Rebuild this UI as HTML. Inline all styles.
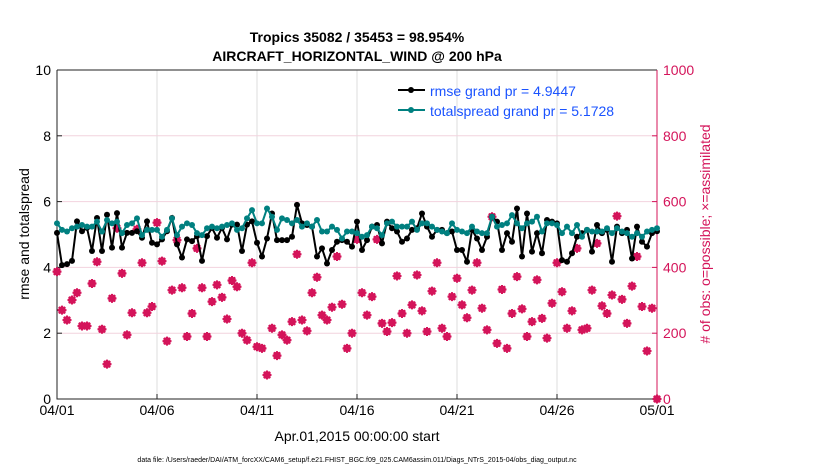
<!DOCTYPE html>
<html><head><meta charset="utf-8"><style>
body{margin:0;background:#fff;width:830px;height:470px;overflow:hidden}
svg{font-family:"Liberation Sans",sans-serif}
</style></head><body>
<svg id="chart" width="830" height="470" viewBox="0 0 830 470" xmlns="http://www.w3.org/2000/svg">
<text x="357" y="42" font-size="14" font-weight="bold" text-anchor="middle">Tropics 35082 / 35453 = 98.954%</text>
<text x="357" y="61" font-size="14" font-weight="bold" text-anchor="middle">AIRCRAFT_HORIZONTAL_WIND @ 200 hPa</text>
<g id="grid"></g>
<g id="axes"></g>
<g id="marks"></g>
<text transform="translate(29,234) rotate(-90)" font-size="14" text-anchor="middle">rmse and totalspread</text>
<text transform="translate(710,234) rotate(-90)" font-size="14" fill="#d4145a" text-anchor="middle"># of obs: o=possible; ×=assimilated</text>
<text x="357" y="441" font-size="14" text-anchor="middle">Apr.01,2015 00:00:00 start</text>
<text x="357" y="462" font-size="7" text-anchor="middle">data file: /Users/raeder/DAI/ATM_forcXX/CAM6_setup/f.e21.FHIST_BGC.f09_025.CAM6assim.011/Diags_NTrS_2015-04/obs_diag_output.nc</text>
<g>
<line x1="398" y1="90" x2="425" y2="90" stroke="#000" stroke-width="2"/><circle cx="411" cy="90" r="3" fill="#000"/>
<text x="430" y="96" font-size="14" fill="#1a53ff">rmse grand pr = 4.9447</text>
<line x1="398" y1="110" x2="425" y2="110" stroke="#008080" stroke-width="2"/><circle cx="411" cy="110" r="3" fill="#008080"/>
<text x="430" y="116" font-size="14" fill="#1a53ff">totalspread grand pr = 5.1728</text>
</g>
</svg>
<script>
const rmse=[5.05,4.07,4.1,4.2,5.4,5.1,5.2,4.5,5.5,4.5,5.6,4.6,5.65,4.6,5.05,5.05,5.1,4.9,5.4,4.75,4.7,4.85,5.1,5.5,4.7,4.3,4.85,4.8,4.95,4.2,4.95,5.2,4.9,5.2,4.85,5.3,5.3,4.5,5.3,5.4,4.75,
4.33,4.88,5.64,4.83,4.83,4.83,4.93,5.90,5.34,5.29,5.24,4.33,4.58,4.12,4.53,4.78,4.83,4.78,4.63,5.39,4.53,4.83,5.24,5.29,4.73,5.39,5.19,5.09,4.78,4.88,5.14,5.19,5.64,5.24,4.93,5.14,5.14,5.04,5.09,4.53,
4.53,4.17,5.14,4.88,4.53,4.93,5.54,5.39,4.53,5.04,4.78,5.79,4.33,5.64,4.48,5.04,4.43,5.44,5.39,5.34,4.22,4.17,4.43,4.93,5.04,5.14,4.48,5.29,5.04,5.14,4.17,5.24,5.04,5.14,4.27,5.24,4.78,4.63,5.04,5.1];
const spread=[5.34,5.14,5.09,5.19,5.24,5.29,5.24,5.24,5.39,5.09,5.44,5.34,5.39,5.04,5.29,5.34,5.49,4.98,5.14,5.14,5.14,4.93,5.14,5.49,4.98,5.24,5.34,5.29,5.04,4.98,5.19,5.24,5.19,5.24,5.29,5.34,5.14,5.19,5.49,5.74,5.34,
5.34,5.79,5.54,5.14,5.49,5.44,5.34,5.44,5.24,5.34,5.24,5.44,5.09,5.09,5.24,5.14,4.88,5.09,5.09,5.04,4.93,4.98,5.24,5.19,4.98,5.34,5.39,5.24,5.24,5.24,5.39,5.14,5.34,5.34,5.24,5.14,5.09,5.04,5.34,5.14,
5.09,5.04,5.24,5.09,5.04,5.04,5.54,5.24,5.29,5.34,5.59,5.34,5.19,5.34,5.39,5.54,5.09,5.34,5.34,5.29,5.04,5.24,5.04,5.29,4.93,5.14,5.09,5.09,5.09,5.19,5.04,5.19,5.09,5.04,4.93,5.04,4.93,5.09,5.14,5.19];
const nobs=[387,270,240,301,323,222,222,351,417,212,106,306,519,382,195,262,516,414,262,281,536,419,176,331,483,338,190,260,458,338,190,296,347,309,243,360,341,200,179,414,159,
154,73,215,132,195,179,235,440,240,207,323,370,255,240,279,433,288,154,200,485,323,255,311,485,230,205,232,374,260,200,286,377,268,205,328,414,215,190,311,367,
286,247,331,414,276,210,554,169,333,154,260,372,274,190,235,362,245,185,291,414,326,215,268,458,210,215,331,473,283,260,316,556,303,230,343,433,281,146,276,0];
const xTickLabels=["04/01","04/06","04/11","04/16","04/21","04/26","05/01"];
const xTickDays=[0,5,10,15,20,25,30];
const yTicksLeft=[0,2,4,6,8,10];
const yTicksRight=[0,200,400,600,800,1000];

const X0=57,X1=657,Y0=399,Y1=70,NS="http://www.w3.org/2000/svg";
const xDay=d=>X0+(X1-X0)*d/30;
const xIdx=i=>xDay(i/4);
const yL=v=>Y0-(Y0-Y1)*v/10;
const yR=v=>Y0-(Y0-Y1)*v/1000;
function mk(tag,attrs,parent){const e=document.createElementNS(NS,tag);for(const k in attrs)e.setAttribute(k,attrs[k]);parent.appendChild(e);return e;}
const grid=document.getElementById('grid'),axes=document.getElementById('axes'),marks=document.getElementById('marks');
xTickDays.forEach((d,k)=>{
  const gl=mk('line',{x1:xDay(d),x2:xDay(d),y1:Y1,y2:Y0,stroke:'#dcdcdc','stroke-width':1},grid);
  
  
  const t=mk('line',{x1:xDay(d),x2:xDay(d),y1:Y0,y2:Y0-5,stroke:'#222'},axes);
  
  
  const tx=mk('text',{x:xDay(d),y:Y0+16,'font-size':14,'text-anchor':'middle'},axes);
  tx.textContent=xTickLabels[k];
  
  
});
yTicksRight.forEach(v=>{
  if(v>0&&v<1000){const gl=mk('line',{x1:X0,x2:X1,y1:yR(v),y2:yR(v),stroke:'#f2d3de','stroke-width':1},grid);
  
  }
  const t=mk('line',{x1:X1,x2:X1-5,y1:yR(v),y2:yR(v),stroke:'#d4145a'},axes);
  
  
  const tx=mk('text',{x:X1+6,y:yR(v)+5,'font-size':14,fill:'#d4145a'},axes);
  tx.textContent=v;
  
  
});
yTicksLeft.forEach(v=>{
  const t=mk('line',{x1:X0,x2:X0+5,y1:yL(v),y2:yL(v),stroke:'#222'},axes);
  
  
  const tx=mk('text',{x:X0-6,y:yL(v)+5,'font-size':14,'text-anchor':'end'},axes);
  tx.textContent=v;
  
  
});
const ax=mk('path',{d:`M${X0},${Y1}H${X1}M${X0},${Y1}V${Y0}H${X1}`,stroke:'#222',fill:'none'},axes);


const rax=mk('line',{x1:X1,x2:X1,y1:Y1,y2:Y0,stroke:'#d4145a'},axes);


nobs.forEach((v,i)=>{
  const g=mk('g',{},marks);
  
  
  const x=xIdx(i),y=yR(v);
  mk('circle',{cx:x,cy:y,r:3.2,fill:'none',stroke:'#d4145a','stroke-width':1.3},g);
  mk('path',{d:`M${x-4.5},${y}H${x+4.5}M${x},${y-4.5}V${y+4.5}M${x-3.2},${y-3.2}L${x+3.2},${y+3.2}M${x-3.2},${y+3.2}L${x+3.2},${y-3.2}`,stroke:'#d4145a','stroke-width':2},g);
});
function series(arr,color,name){
  const p=mk('polyline',{points:arr.map((v,i)=>xIdx(i)+','+yL(v)).join(' '),fill:'none',stroke:color,'stroke-width':2},marks);
  
  
  arr.forEach((v,i)=>{
    const c=mk('circle',{cx:xIdx(i),cy:yL(v),r:3,fill:color},marks);
    
    
  });
}
series(rmse,'#000','rmse');
series(spread,'#008080','totalspread');
</script>
</body></html>
